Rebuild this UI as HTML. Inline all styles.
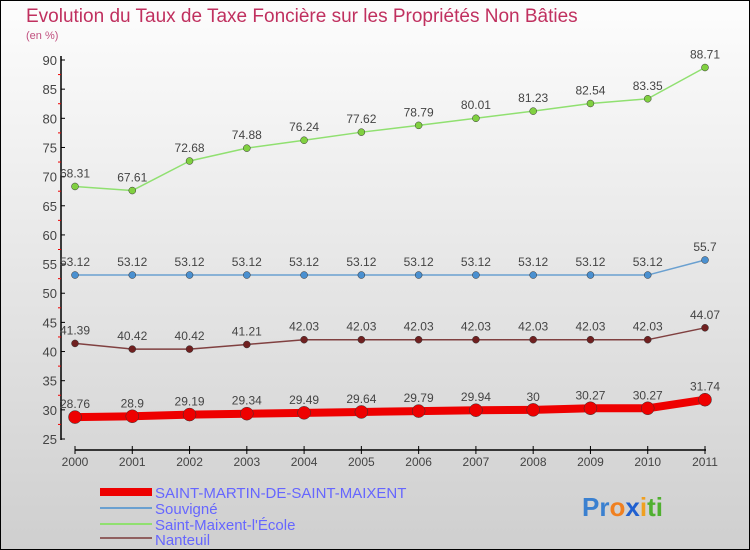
<!DOCTYPE html>
<html><head><meta charset="utf-8"><style>
html,body{margin:0;padding:0}
body{width:750px;height:550px;overflow:hidden;font-family:"Liberation Sans",sans-serif}
#c{position:absolute;left:0;top:0;width:748px;height:548px;border:1px solid #000;background:linear-gradient(#fdfdfd,#cfcfcf)}
</style></head><body>
<div id="c">
<svg id="s" width="750" height="550" style="position:absolute;left:-1px;top:-1px">
<text x="26" y="22" font-size="19" fill="#c0305f">Evolution du Taux de Taxe Foncière sur les Propriétés Non Bâties</text>
<text x="26" y="39" font-size="11" fill="#c0507f">(en %)</text>
<g id="g"></g>
<g>
<rect x="100" y="488" width="52" height="8" fill="#e00"/>
<text x="155" y="498" font-size="15" fill="#66f">SAINT-MARTIN-DE-SAINT-MAIXENT</text>
<rect x="100" y="507" width="52" height="2" fill="#6aa0d0"/>
<text x="155" y="514" font-size="15" fill="#66f">Souvigné</text>
<rect x="100" y="523" width="52" height="2" fill="#90e070"/>
<text x="155" y="530" font-size="15" fill="#66f">Saint-Maixent-l'École</text>
<rect x="100" y="537" width="52" height="2" fill="#906060"/>
<text x="155" y="545" font-size="15" fill="#66f">Nanteuil</text>
</g>
<text x="582" y="516" font-size="26" font-weight="bold"><tspan fill="#3a80d0">Pr</tspan><tspan fill="#f08020">o</tspan><tspan fill="#2060d0">x</tspan><tspan fill="#f0a020">i</tspan><tspan fill="#50b030">ti</tspan></text>
</svg>
</div>
<script>
const years=[2000,2001,2002,2003,2004,2005,2006,2007,2008,2009,2010,2011];
const yTicks=[25,30,35,40,45,50,55,60,65,70,75,80,85,90];
const smsm=[28.76,28.9,29.19,29.34,29.49,29.64,29.79,29.94,30,30.27,30.27,31.74];
const smsmLabels=["28.76","28.9","29.19","29.34","29.49","29.64","29.79","29.94","30","30.27","30.27","31.74"];
const souvigne=[53.12,53.12,53.12,53.12,53.12,53.12,53.12,53.12,53.12,53.12,53.12,55.7];
const souvigneLabels=["53.12","53.12","53.12","53.12","53.12","53.12","53.12","53.12","53.12","53.12","53.12","55.7"];
const smaixent=[68.31,67.61,72.68,74.88,76.24,77.62,78.79,80.01,81.23,82.54,83.35,88.71];
const smaixentLabels=["68.31","67.61","72.68","74.88","76.24","77.62","78.79","80.01","81.23","82.54","83.35","88.71"];
const nanteuil=[41.39,40.42,40.42,41.21,42.03,42.03,42.03,42.03,42.03,42.03,42.03,44.07];
const nanteuilLabels=["41.39","40.42","40.42","41.21","42.03","42.03","42.03","42.03","42.03","42.03","42.03","44.07"];
const NS="http://www.w3.org/2000/svg";
const g=document.getElementById('g');
const X=i=>75+i*(705-75)/11;
const Y=v=>439-(v-25)*(379/65);
function el(t,a){const e=document.createElementNS(NS,t);for(const k in a)e.setAttribute(k,a[k]);g.appendChild(e);return e;}
let a=el('line',{x1:61,y1:56,x2:61,y2:440,stroke:'#000','stroke-width':1.5});


a=el('line',{x1:75,y1:450,x2:706,y2:450,stroke:'#000','stroke-width':1.5});


yTicks.forEach(v=>{
 const t=el('line',{x1:61,y1:Y(v),x2:65,y2:Y(v),stroke:'#000'});
 
 
 const m=el('line',{x1:58,y1:Y(v+2.5),x2:61,y2:Y(v+2.5),stroke:'#e00'});
 if(v===90)m.remove();
 const l=el('text',{x:57,y:Y(v)+5,'font-size':13,fill:'#444','text-anchor':'end'});
 l.textContent=v;
 
 
});
years.forEach((y,i)=>{
 const t=el('line',{x1:X(i),y1:446,x2:X(i),y2:454,stroke:'#000'});
 
 
 const l=el('text',{x:X(i),y:466,'font-size':12,fill:'#444','text-anchor':'middle'});
 l.textContent=y;
 
 
});
function series(vals,labs,color,w,r,fill,name){
 const p=el('polyline',{points:vals.map((v,i)=>X(i)+','+Y(v)).join(' '),fill:'none',stroke:color,'stroke-width':w,'stroke-linejoin':'round'});
 
 
 vals.forEach((v,i)=>{
  const c=el('circle',{cx:X(i),cy:Y(v),r:r,fill:fill,stroke:'#333','stroke-width':0.5});
  
  
  const t=el('text',{x:X(i),y:Y(v)-9,'font-size':12,fill:'#444','text-anchor':'middle'});
  t.textContent=labs[i];
  
  
 });
}
series(smaixent,smaixentLabels,'#90e070',1.5,3.5,'#80d040','saint-maixent');
series(souvigne,souvigneLabels,'#6aa0d0',1.5,3.5,'#4a90d0','souvigne');
series(nanteuil,nanteuilLabels,'#804040',1.5,3.5,'#702020','nanteuil');
series(smsm,smsmLabels,'#ee0000',8,6.5,'#ee0000','saint-martin');
</script>
</body></html>
